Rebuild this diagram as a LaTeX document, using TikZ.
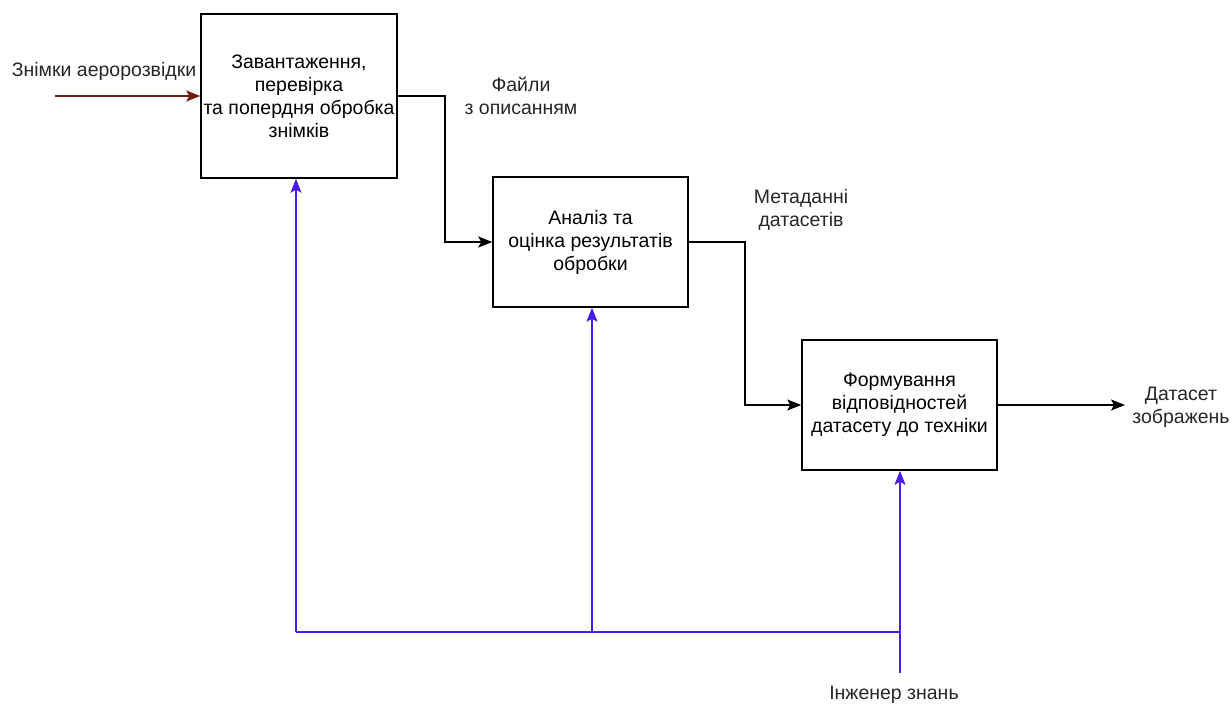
\documentclass[tikz,border=0pt]{standalone}
\usepackage{fontspec}
\setmainfont{Liberation Sans}
\usetikzlibrary{arrows.meta}
\definecolor{ctrlblue}{RGB}{72,28,232}
\definecolor{inbrown}{RGB}{110,32,12}
\begin{document}
\begin{tikzpicture}[x=1pt,y=-1pt,
  every node/.style={font=\fontsize{19.5pt}{23pt}\selectfont, align=center, inner sep=0pt},
  func/.style={draw=black, line width=1.5pt, fill=white},
  tip/.style={-{Stealth[length=14pt,width=11pt,inset=3pt]}},
  flow/.style={draw=black, line width=1.4pt, tip},
  ctrl/.style={draw=ctrlblue, line width=1.4pt},
  ctrlarrow/.style={ctrl, tip},
  inarrow/.style={draw=inbrown, line width=1.4pt, tip},
  lbl/.style={text=black!85}]
\useasboundingbox (0,0) rectangle (1232,706);

% function blocks
\node[func, minimum width=196pt, minimum height=164pt] (b1) at (299,96)
  {Завантаження,\\перевірка\\та попердня обробка\\знімків};
\node[func, minimum width=195pt, minimum height=130pt] (b2) at (590.5,242)
  {Аналіз та\\оцінка результатів\\обробки};
\node[func, minimum width=195pt, minimum height=130pt] (b3) at (899.5,405)
  {Формування\\відповідностей\\датасету до техніки};

% labels
\node[lbl] (tin) at (104,71) {Знімки аеророзвідки};
\node[lbl] (t12) at (521,96) {Файли\\з описанням};
\node[lbl] (t23) at (801,210) {Метаданні\\датасетів};
\node[lbl] (tout) at (1181,407.5) {Датасет\\зображень};
\node[lbl] (teng) at (894,695) {Інженер знань};

% input
\coordinate (inS) at (55,96);
\draw[inarrow] (inS) -- (b1.west |- inS);

% flows between blocks
\coordinate (j1) at (445,96);
\coordinate (j2) at (745,242);
\draw[flow] (b1.east |- j1) -- (j1) |- (b2.west);
\draw[flow] (b2.east) -- (j2) |- (b3.west);
\coordinate (outE) at (1125,405);
\draw[flow] (b3.east) -- (outE);

% control from the knowledge engineer
\coordinate (engB) at (900,673);
\coordinate (busL) at (296,632);
\coordinate (busM) at (592,632);
\coordinate (busR) at (900,632);
\draw[ctrl] (engB) -- (busR) -- (busL);
\draw[ctrlarrow] (busR) -- (b3.south -| busR);
\draw[ctrlarrow] (busM) -- (b2.south -| busM);
\draw[ctrlarrow] (busL) -- (b1.south -| busL);
\end{tikzpicture}
\end{document}
